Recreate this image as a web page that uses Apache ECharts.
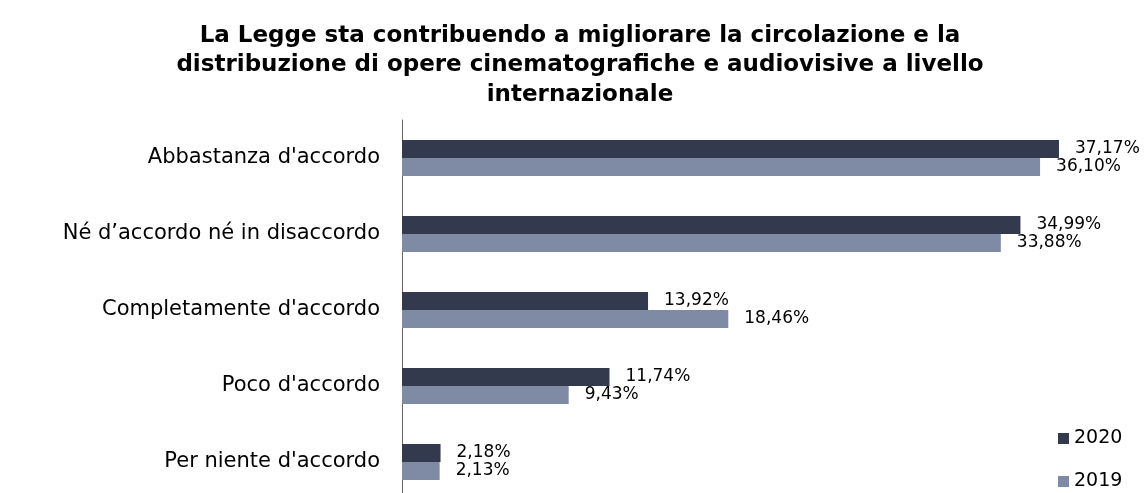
<!DOCTYPE html>
<html><head><meta charset="utf-8">
<script src="https://cdn.jsdelivr.net/npm/echarts@6/dist/echarts.min.js"></script>
<style>html,body{margin:0;padding:0;background:#fff}#c{width:1146px;height:493px}</style>
</head><body><div id="c"></div>
<script>
const categories = ["Abbastanza d'accordo", "Né d\u2019accordo né in disaccordo", "Completamente d'accordo", "Poco d'accordo", "Per niente d'accordo"];
const values2020 = [37.17, 34.99, 13.92, 11.74, 2.18];
const values2019 = [36.10, 33.88, 18.46, 9.43, 2.13];
const seriesNames = ["2020", "2019"];
const titleText = "La Legge sta contribuendo a migliorare la circolazione e la\ndistribuzione di opere cinematografiche e audiovisive a livello\ninternazionale";

const FONT = "DejaVu Sans";
const chart = echarts.init(document.getElementById('c'));
const fmt = p => p.value.toFixed(2).replace('.', ',') + '%';
const lbl = {show: true, position: 'right', distance: 16, formatter: fmt, color: '#000', fontFamily: FONT, fontSize: 17};
const legendBase = {orient: 'vertical', left: 1053, itemWidth: 11, itemHeight: 11,
    icon: 'rect', textStyle: {fontFamily: FONT, fontSize: 19, color: '#000'}};
chart.setOption({
  animation: false,
  title: {text: titleText, left: 575, textAlign: 'center', top: 16,
    textStyle: {fontFamily: FONT, fontWeight: 'bold', fontSize: 23, lineHeight: 29.5, color: '#000'}},
  legend: [
    Object.assign({}, legendBase, {top: 424, data: [seriesNames[0]]}),
    Object.assign({}, legendBase, {top: 467, data: [seriesNames[1]]})
  ],
  grid: {left: 402, top: 120, right: 37, bottom: -7, outerBoundsMode: 'none'},
  xAxis: {type: 'value', min: 0, max: 40, show: false},
  yAxis: {type: 'category', inverse: true, data: categories,
    axisLine: {show: true, lineStyle: {color: '#666', width: 1}}, axisTick: {show: false},
    axisLabel: {fontFamily: FONT, fontSize: 21, color: '#000', margin: 22}},
  series: [
    {name: seriesNames[0], type: 'bar', data: values2020, barWidth: 18, barGap: '0%',
      itemStyle: {color: '#343a4e'}, label: lbl},
    {name: seriesNames[1], type: 'bar', data: values2019, barWidth: 18, barGap: '0%',
      itemStyle: {color: '#7f8aa5'}, label: lbl}
  ]
});
</script></body></html>
